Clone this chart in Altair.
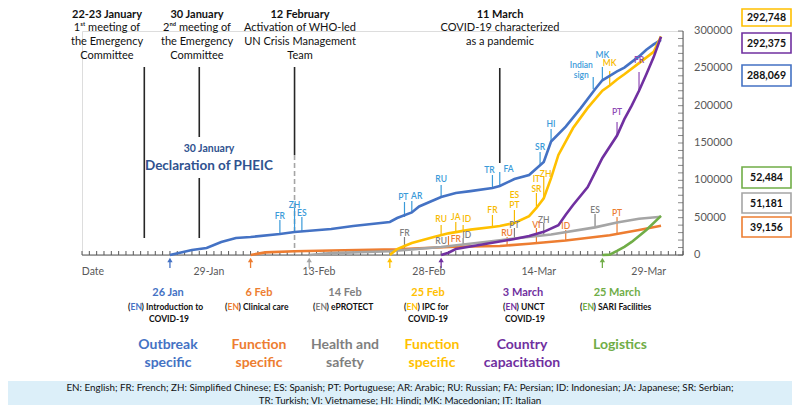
import altair as alt
import pandas as pd

FONT = "Lato"
W, H = 601, 224
OX, OY = 82, 31  # image position of plot origin


def rx(x):
    return x - OX


def ry(y):
    return y - OY


# ---------------- data ----------------
series_names = ["Outbreak specific", "Clinical care", "Health and safety",
                "IPC", "Country capacitation", "Logistics"]
series_colors = ["#4472C4", "#ED7D31", "#A5A5A5", "#FFC000", "#7030A0", "#70AD47"]

blue_dates = ["01-26", "01-29", "01-31", "02-02", "02-04", "02-06", "02-10", "02-12",
              "02-17", "02-20", "02-25", "02-26", "02-28", "02-29", "03-03", "03-05",
              "03-07", "03-10", "03-11", "03-13", "03-15", "03-17", "03-18", "03-20",
              "03-22", "03-24", "03-25", "03-26", "03-27", "03-28", "03-30", "03-31",
              "04-01", "04-02"]
blue_vals = [0, 6700, 9400, 17400, 22800, 24100, 28100, 30800, 34800, 38800, 44200,
             49500, 57000, 65000, 77700, 83000, 85500, 89700, 92400, 101800, 107100,
             124600, 152000, 172000, 196000, 222000, 234000, 240000, 246000, 251000,
             266000, 275000, 282000, 288069]

orange_dates = ["02-06", "02-08", "02-12", "02-17", "02-26", "02-29", "03-05", "03-11",
                "03-15", "03-20", "03-26", "03-30", "04-02"]
orange_vals = [0, 3500, 5000, 6000, 7500, 9000, 11000, 12000, 15000, 19500, 26500,
               33500, 39156]

gray_dates = ["02-14", "02-17", "02-25", "02-28", "03-03", "03-09", "03-13", "03-18",
              "03-24", "03-27", "03-30", "04-02"]
gray_vals = [0, 2500, 5000, 7500, 10700, 17400, 22000, 27500, 37000, 43500, 48500, 51181]

yellow_dates = ["02-25", "02-26", "02-27", "02-28", "03-02", "03-04", "03-07", "03-10",
                "03-11", "03-13", "03-15", "03-16", "03-17", "03-18", "03-19", "03-21",
                "03-23", "03-25", "03-26", "03-27", "03-28", "03-30", "04-01", "04-02"]
yellow_vals = [0, 8000, 12000, 16000, 24100, 29000, 34000, 37500, 38800, 42900, 52000,
               63000, 76000, 103000, 134000, 170000, 197000, 220000, 227000, 235000,
               242000, 257000, 272000, 292748]

purple_dates = ["03-03", "03-04", "03-05", "03-07", "03-10", "03-13", "03-15", "03-17",
                "03-19", "03-20", "03-21", "03-23", "03-25", "03-27", "03-28", "03-29",
                "03-30", "03-31", "04-01", "04-02"]
purple_vals = [0, 3000, 8000, 11500, 16500, 21400, 25500, 31000, 40000, 54000, 67000,
               91000, 130000, 160000, 182000, 200000, 220000, 242000, 265000, 292375]

green_dates = ["03-25", "03-26", "03-27", "03-28", "03-29", "03-31", "04-02"]
green_vals = [0, 500, 5500, 11000, 17500, 33500, 52484]

final_labels = ["292,748", "292,375", "288,069", "52,484", "51,181", "39,156"]

y_tick_values = [0, 50000, 100000, 150000, 200000, 250000, 300000]

# language annotations: code, tick date, line value, tick top value, text date, text value
blue_ann = [
    ("FR", "02-10", 28100, 46900, "02-10", 52200),
    ("ZH", "02-12", 30800, 62900, "02-12", 67000),
    ("ES", "02-13", 30800, 50900, "02-13", 56300),
    ("PT", "02-27", 50900, 71000, "02-26T20", 77700),
    ("AR", "02-28", 57600, 72300, "02-28T16", 79000),
    ("RU", "03-03", 77700, 93800, "03-03", 101800),
    ("TR", "03-10", 90000, 107100, "03-09T14", 113800),
    ("FA", "03-11", 92400, 111200, "03-12T05", 115200),
    ("SR", "03-16T12", 120000, 137900, "03-16T12", 144600),
    ("HI", "03-18", 152000, 168800, "03-18", 175400),
    ("sign", "03-23T18", 222000, 238400, "03-22T03", 241100),
    ("Indian", None, None, None, "03-22T03", 254500),
    ("MK", "03-25", 234000, 251800, "03-25", 267900),
]
yellow_ann = [
    ("RU", "03-03", 26000, 40200, "03-03", 48200),
    ("JA", "03-05", 30000, 44200, "03-05", 50900),
    ("ID", "03-06", 32000, 40200, "03-06T12", 48200),
    ("FR", "03-10", 37500, 53600, "03-10", 60300),
    ("PT", "03-13", 42900, 60300, "03-13", 67000),
    ("ES", None, None, None, "03-13", 80400),
    ("SR", "03-16", 63000, 83000, "03-16", 88400),
    ("IT", None, None, None, "03-16", 101800),
    ("ZH", "03-17", 76000, 104500, "03-17T06", 108500),
    ("MK", "03-26", 227000, 246400, "03-26", 257100),
]
gray_ann = [
    ("FR", "02-27", 7000, 24100, "02-27", 29500),
    ("RU", None, None, None, "03-03", 18700),
    ("ID", "03-06", 13000, 22800, "03-06T12", 26800),
    ("PT", "03-13", 22000, 36200, "03-13", 40200),
    ("ZH", "03-17", 26000, 42900, "03-17", 46900),
    ("ES", "03-24", 37000, 54900, "03-24", 60300),
]
orange_ann = [
    ("FR", "03-04", 10500, 25400, "03-05", 21400),
    ("RU", "03-12", 12500, 24100, "03-12", 29500),
    ("VI", "03-16", 15200, 36200, "03-16", 40200),
    ("ID", "03-20", 19500, 33500, "03-20", 38800),
    ("PT", "03-27", 27500, 50900, "03-27", 56300),
]
purple_ann = [
    ("PT", "03-27", 160000, 178100, "03-27", 191500),
    ("FR", "03-30", 220000, 245100, "03-30", 261200),
]
ann_colors = {"blue": "#3A9AD9", "yellow": "#F7BA00", "gray": "#7F7F7F",
              "orange": "#ED7D31", "purple": "#8E4AB5"}

event_dates = ["01-22T12", "01-30", "02-12", "03-11"]
x_label_dates = ["01-29", "02-13", "02-28", "03-14", "03-29"]
x_label_texts = ["29-Jan", "13-Feb", "28-Feb", "14-Mar", "29-Mar"]


def ts(md):
    if md is None:
        return None
    if "T" in md:
        return pd.Timestamp("2020-" + md + ":00:00")
    return pd.Timestamp("2020-" + md)


# ---------------- build tables ----------------
all_series = [blue_dates, orange_dates, gray_dates, yellow_dates, purple_dates, green_dates]
all_vals = [blue_vals, orange_vals, gray_vals, yellow_vals, purple_vals, green_vals]
rows = []
for name, ds, vs in zip(series_names, all_series, all_vals):
    for d, v in zip(ds, vs):
        rows.append({"series": name, "date": ts(d), "value": v})
df = pd.DataFrame(rows)

arrow_df = pd.DataFrame({"date": [ts(ds[0]) for ds in all_series], "c": series_colors})

ann_rows = []
for key, lst in [("blue", blue_ann), ("yellow", yellow_ann), ("gray", gray_ann),
                 ("orange", orange_ann), ("purple", purple_ann)]:
    for code, td, lo, hi, xd, yv in lst:
        ann_rows.append({"code": code, "td": ts(td), "lo": lo, "hi": hi,
                         "xd": ts(xd), "yv": yv, "c": ann_colors[key]})
ann_df = pd.DataFrame(ann_rows)
ann_tick_df = ann_df.dropna(subset=["td"])

xscale = alt.Scale(domain=[alt.DateTime(year=2020, month=1, date=14),
                           alt.DateTime(year=2020, month=4, date=5)])
yscale = alt.Scale(domain=[0, 300000], nice=False)
AXC = "#595959"

lines = alt.Chart(df).mark_line(strokeWidth=2.6).encode(
    x=alt.X("date:T", scale=xscale, axis=None),
    y=alt.Y("value:Q", scale=yscale, axis=None),
    color=alt.Color("series:N", scale=alt.Scale(domain=series_names, range=series_colors),
                    legend=None),
    detail="series:N",
)

one = pd.DataFrame({"k": [0]})
x_domain = alt.Chart(one).mark_rule(color=AXC, strokeWidth=1).encode(
    x=alt.value(0), x2=alt.value(W), y=alt.value(H))
y_domain = alt.Chart(one).mark_rule(color=AXC, strokeWidth=1).encode(
    x=alt.value(W), y=alt.value(0), y2=alt.value(H))

# x tick labels (offset to the right as in the original)
xl_df = pd.DataFrame({"d": [ts(d) for d in x_label_dates], "t": x_label_texts})
xlabels = alt.Chart(xl_df).mark_text(dx=17, fontSize=10.5, font=FONT, color=AXC,
                                     baseline="middle").encode(
    x=alt.X("d:T", scale=xscale, axis=None), y=alt.value(ry(272)), text="t:N")

# y tick labels
yl_df = pd.DataFrame({"v": y_tick_values, "t": [str(v) for v in y_tick_values]})
ylabels = alt.Chart(yl_df).mark_text(fontSize=11, font=FONT, color=AXC, align="left",
                                     baseline="middle").encode(
    y=alt.Y("v:Q", scale=yscale, axis=None), x=alt.value(W + 11), text="t:N")

# axis minor ticks
xt_df = pd.DataFrame({"d": pd.date_range("2020-01-14", "2020-04-05", freq="D")})
xticks = alt.Chart(xt_df).mark_rule(color=AXC, strokeWidth=1).encode(
    x=alt.X("d:T", scale=xscale, axis=None), y=alt.value(H), y2=alt.value(H - 4))
yt_df = pd.DataFrame({"v": list(range(0, 300001, 10000))})
yticks = alt.Chart(yt_df).mark_tick(color=AXC, thickness=1, size=5, orient="horizontal",
                                    xOffset=-2.5).encode(
    y=alt.Y("v:Q", scale=yscale, axis=None), x=alt.value(W))

# event lines
ev_rows = [
    (event_dates[0], 67, 238), (event_dates[1], 67, 137),
    (event_dates[1], 178, 238), (event_dates[2], 67, 155),
    (event_dates[3], 68, 163),
]
ev_df = pd.DataFrame([{"date": ts(d), "y1": ry(a), "y2": ry(b)} for d, a, b in ev_rows])
ev_lines = alt.Chart(ev_df).mark_rule(color="#262626", strokeWidth=1.6).encode(
    x=alt.X("date:T", scale=xscale, axis=None),
    y=alt.Y("y1:Q", scale=None, axis=None), y2="y2:Q")
dash_df = pd.DataFrame([{"date": ts(event_dates[2]), "y1": ry(155), "y2": ry(254)}])
dash_line = alt.Chart(dash_df).mark_rule(color="#A5A5A5", strokeWidth=1.6,
                                         strokeDash=[5, 3]).encode(
    x=alt.X("date:T", scale=xscale, axis=None),
    y=alt.Y("y1:Q", scale=None, axis=None), y2="y2:Q")

# start arrows
arrow_shaft = alt.Chart(arrow_df).mark_rule(strokeWidth=1.3).encode(
    x=alt.X("date:T", scale=xscale, axis=None), y=alt.value(ry(260)), y2=alt.value(ry(268)),
    color=alt.Color("c:N", scale=None))
arrow_head = alt.Chart(arrow_df).mark_point(shape="triangle-up", filled=True, size=28,
                                            opacity=1).encode(
    x=alt.X("date:T", scale=xscale, axis=None), y=alt.value(ry(260)),
    color=alt.Color("c:N", scale=None))

# language annotations
ann_ticks = alt.Chart(ann_tick_df).mark_rule(strokeWidth=1.2).encode(
    x=alt.X("td:T", scale=xscale, axis=None),
    y=alt.Y("lo:Q", scale=yscale, axis=None), y2="hi:Q",
    color=alt.Color("c:N", scale=None))
ann_text = alt.Chart(ann_df).mark_text(fontSize=8.5, font=FONT, fontWeight=600,
                                       baseline="middle").encode(
    x=alt.X("xd:T", scale=xscale, axis=None),
    y=alt.Y("yv:Q", scale=yscale, axis=None),
    text="code:N", color=alt.Color("c:N", scale=None))


def texts(items, size, weight="normal", align="center"):
    d = pd.DataFrame([{"px": rx(x), "py": ry(y), "t": t, "c": c} for x, y, t, c in items])
    return alt.Chart(d).mark_text(fontSize=size, fontWeight=weight, align=align,
                                  baseline="middle", font=FONT).encode(
        x=alt.X("px:Q", scale=None, axis=None),
        y=alt.Y("py:Q", scale=None, axis=None),
        text="t:N", color=alt.Color("c:N", scale=None))


K = "#111111"
top_heads = texts([(107, 14.5, "22-23 January", K), (197, 14.5, "30 January", K),
                   (300, 14.5, "12 February", K), (500, 14.5, "11 March", K)], 11, "bold")
top_body = texts([(107, 28, "1ˢᵗ  meeting of", K), (107, 42, "the Emergency", K),
                  (107, 55.5, "Committee", K), (197, 28, "2ⁿᵈ  meeting of", K),
                  (197, 42, "the Emergency", K), (197, 55.5, "Committee", K),
                  (300, 28, "Activation of WHO-led", K), (300, 42, "UN Crisis Management", K),
                  (300, 55.5, "Team", K), (500, 28, "COVID-19 characterized", K),
                  (500, 42, "as a pandemic", K)], 11)
PHC = "#2F528F"
pheic1 = texts([(209, 149, "30 January", PHC)], 10.5, "bold")
pheic2 = texts([(209, 166, "Declaration of PHEIC", PHC)], 13.5, "bold")
date_lbl = texts([(93, 272, "Date", AXC)], 10.5)

bottom_x = [168, 259, 345, 428, 523, 617]
bottom_dates = ["26 Jan", "6 Feb", "14 Feb", "25 Feb", "3 March", "25 March"]
lbl_cols = ["#4472C4", "#ED7D31", "#7F7F7F", "#FFC000", "#7030A0", "#70AD47"]
row1 = texts([(x, 293, t, c) for x, t, c in zip(bottom_x, bottom_dates, lbl_cols)],
             11, "bold")
course_left = [128, 225, 313, 404, 503, 580]
course_rest = [") Introduction to", ") Clinical care", ") ePROTECT", ") IPC for", ") UNCT",
               ") SARI Facilities"]
paren = texts([(L, 307, "(", K) for L in course_left], 8.5, "bold", "left")
en = texts([(L + 2.6, 307, "EN", c) for L, c in zip(course_left, lbl_cols)], 8.5, "bold",
           "left")
rest = texts([(L + 13.6, 307, r, K) for L, r in zip(course_left, course_rest)], 8.5, "bold",
             "left")
row3 = texts([(169, 319, "COVID-19", K), (428, 319, "COVID-19", K), (525, 319, "COVID-19", K)],
             8.5, "bold")
cats = texts([(168, 345, "Outbreak", lbl_cols[0]), (168, 363, "specific", lbl_cols[0]),
              (259, 345, "Function", lbl_cols[1]), (259, 363, "specific", lbl_cols[1]),
              (345, 345, "Health and", lbl_cols[2]), (345, 363, "safety", lbl_cols[2]),
              (432, 345, "Function", lbl_cols[3]), (432, 363, "specific", lbl_cols[3]),
              (522, 345, "Country", lbl_cols[4]), (522, 363, "capacitation", lbl_cols[4]),
              (620, 345, "Logistics", lbl_cols[5])], 14, "bold")

# footer band
band_df = pd.DataFrame([{"x1": rx(8), "x2": rx(792), "y1": ry(381), "y2": ry(405)}])
band = alt.Chart(band_df).mark_rect(color="#DCEFF9").encode(
    x=alt.X("x1:Q", scale=None, axis=None), x2="x2:Q",
    y=alt.Y("y1:Q", scale=None, axis=None), y2="y2:Q")
footer = texts([(400, 388, "EN: English; FR: French; ZH: Simplified Chinese; ES: Spanish; "
                 "PT: Portuguese; AR: Arabic; RU: Russian; FA: Persian; ID: Indonesian; "
                 "JA: Japanese; SR: Serbian;", K),
                (400, 401, "TR: Turkish; VI: Vietnamese; HI: Hindi; MK: Macedonian; "
                 "IT: Italian", K)], 9.8)

# final value boxes
box_y = [(3, 26), (33, 53), (65, 86), (167, 188), (193, 213), (217, 237)]
box_cols = ["#FFC000", "#7030A0", "#4472C4", "#70AD47", "#A5A5A5", "#ED7D31"]
box_df = pd.DataFrame([{"x1": rx(742), "x2": rx(791), "y1": ry(max(a, 9)), "y2": ry(b), "c": c}
                       for (a, b), c in zip(box_y, box_cols)])
boxes = alt.Chart(box_df).mark_rect(fill="white", strokeWidth=1.6).encode(
    x=alt.X("x1:Q", scale=None, axis=None), x2="x2:Q",
    y=alt.Y("y1:Q", scale=None, axis=None), y2="y2:Q",
    stroke=alt.Stroke("c:N", scale=None))
box_text = texts([(766.5, (max(a, 9) + b) / 2 + 0.5, t, K)
                  for (a, b), t in zip(box_y, final_labels)], 10.5, "bold")

chart = alt.layer(
    band, xticks, yticks, x_domain, y_domain, ev_lines, dash_line, ann_ticks, lines,
    arrow_shaft, arrow_head, ann_text, xlabels, ylabels, top_heads, top_body, pheic1, pheic2,
    date_lbl, row1, paren, en, rest, row3, cats, footer, boxes, box_text,
).properties(
    width=W, height=H,
    padding={"left": 74, "top": 23, "right": 109, "bottom": 150},
    autosize=alt.AutoSizeParams(type="none"),
    background="white",
).configure_view(stroke=None).configure(font=FONT)

chart.save("out.html", embed_options={"renderer": "svg", "actions": False})
